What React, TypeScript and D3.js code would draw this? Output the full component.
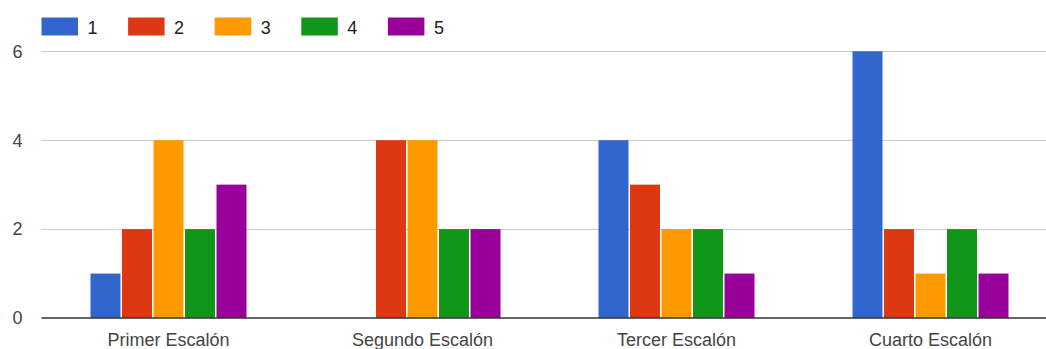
import React from "react";
import * as d3 from "d3";

const categories = ["Primer Escalón", "Segundo Escalón", "Tercer Escalón", "Cuarto Escalón"];
const seriesNames = ["1", "2", "3", "4", "5"];
const s1 = [1, 0, 4, 6];
const s2 = [2, 4, 3, 2];
const s3 = [4, 4, 2, 1];
const s4 = [2, 2, 2, 2];
const s5 = [3, 2, 1, 1];
const seriesValues = [s1, s2, s3, s4, s5];
const colors = ["#3366cc", "#dc3912", "#ff9900", "#109618", "#990099"];
const yTicks = [0, 2, 4, 6];

const W = 1046;
const H = 349;
const plotLeft = 41.5;
const plotRight = 1057.5;
const yTop = 51.3;
const yBottom = 318;
const groupWidth = 157.5;
const FONT = "'Liberation Sans', Arial, sans-serif";

export default function App() {
  const x0 = d3.scaleBand<string>().domain(categories).range([plotLeft, plotRight]).padding(0);
  const bw = x0.bandwidth();
  const x1 = d3
    .scaleBand<string>()
    .domain(seriesNames)
    .range([(bw - groupWidth) / 2, (bw + groupWidth) / 2])
    .padding(0);
  const y = d3.scaleLinear().domain([0, 6]).range([yBottom, yTop]);

  return (
    <svg
      width={W}
      height={H}
      style={{ position: "absolute", left: 0, top: 0, display: "block" }}
      fontFamily={FONT}
    >
      <rect x={0} y={0} width={W} height={H} fill="#ffffff" />
      {/* legend */}
      {seriesNames.map((s, i) => {
        const lx = 41.5 + i * 86.6;
        return (
          <g key={s}>
            <rect x={lx} y={17.5} width={36.5} height={18} fill={colors[i]} />
            <text x={lx + 46} y={33.5} fontSize={18} fill="#222">
              {s}
            </text>
          </g>
        );
      })}
      {/* gridlines */}
      {yTicks.map((t) =>
        t === 0 ? null : (
          <line
            key={t}
            x1={plotLeft}
            x2={W}
            y1={Math.round(y(t)) + 0.5}
            y2={Math.round(y(t)) + 0.5}
            stroke="#cccccc"
            strokeWidth={1}
          />
        )
      )}
      {/* y labels */}
      {yTicks.map((t) => (
        <text
          key={"l" + t}
          x={22.5}
          y={y(t)}
          dy="0.35em"
          textAnchor="end"
          fontSize={18}
          fill="#444"
        >
          {t}
        </text>
      ))}
      {/* bars */}
      {categories.map((c, ci) => (
        <g key={c} transform={`translate(${x0(c)},0)`}>
          {seriesNames.map((s, si) => {
            const v = seriesValues[si][ci];
            if (!v) return null;
            return (
              <rect
                key={s}
                x={(x1(s) as number) + 0.75}
                y={y(v)}
                width={x1.bandwidth() - 1.5}
                height={y(0) - y(v)}
                fill={colors[si]}
              />
            );
          })}
        </g>
      ))}
      {/* baseline */}
      <line x1={plotLeft} x2={W} y1={yBottom} y2={yBottom} stroke="#333333" strokeWidth={1.5} />
      {/* x labels */}
      {categories.map((c) => (
        <text
          key={"x" + c}
          x={(x0(c) as number) + bw / 2}
          y={346}
          textAnchor="middle"
          fontSize={18}
          fill="#444"
        >
          {c}
        </text>
      ))}
    </svg>
  );
}
